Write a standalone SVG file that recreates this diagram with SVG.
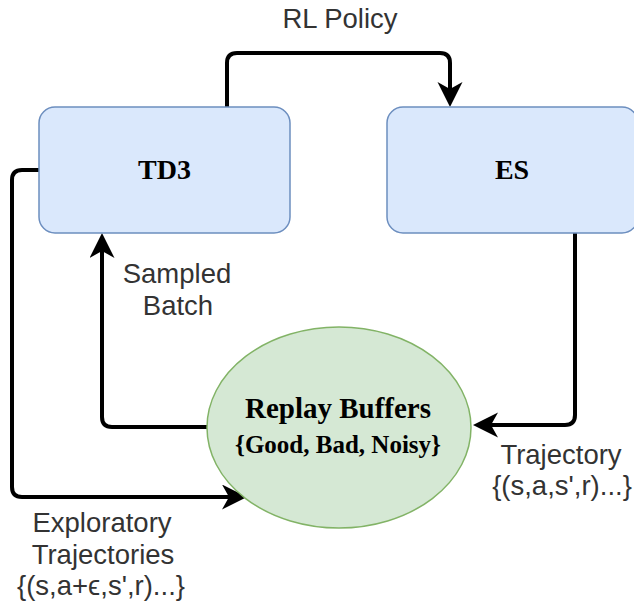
<svg xmlns="http://www.w3.org/2000/svg" width="634" height="610" viewBox="0 0 634 610">
<style>
.box{fill:#dae8fc;stroke:#6c8ebf;stroke-width:1.5}
.ell{fill:#d5e8d4;stroke:#82b366;stroke-width:1.5}
.edge{fill:none;stroke:#000;stroke-width:4;stroke-linejoin:round}
.lbl{font-family:"Liberation Sans",Arial,sans-serif;font-size:27.5px;fill:#333;text-anchor:middle}
.bold{font-family:"Liberation Serif","Times New Roman",serif;font-weight:bold;fill:#000;text-anchor:middle}
</style>
<defs>
<marker id="arr" markerUnits="userSpaceOnUse" markerWidth="26" markerHeight="26" refX="10" refY="12.5" orient="auto" viewBox="0 0 26 26">
<path d="M0,0 L25,12.5 L0,25 L7,12.5 Z" fill="#000"/>
</marker>
</defs>
<g id="connectors">
<path class="edge" d="M227,107 V63 Q227,53 237,53 H440 Q450,53 450,63 V92" marker-end="url(#arr)"/>
<path class="edge" d="M575,233 V415 Q575,425 565,425 H488" marker-end="url(#arr)"/>
<path class="edge" d="M207,427 H112 Q102,427 102,417 V248" marker-end="url(#arr)"/>
<path class="edge" d="M39,170 H22 Q12,170 12,180 V487 Q12,497 22,497 H232" marker-end="url(#arr)"/>
</g>
<g id="td3">
<rect class="box" x="39" y="107" width="251" height="126" rx="16" ry="16"/>
<text class="bold" x="164.5" y="179" font-size="28">TD3</text>
</g>
<g id="es">
<rect class="box" x="387" y="107" width="251" height="126" rx="16" ry="16"/>
<text class="bold" x="512" y="179" font-size="28">ES</text>
</g>
<g id="replay">
<ellipse class="ell" cx="339" cy="427.5" rx="132" ry="100.5"/>
<text class="bold" x="338" y="418" font-size="29">Replay Buffers</text>
<text class="bold" x="338" y="453" font-size="25">{Good, Bad, Noisy}</text>
</g>
<g id="labels">
<text class="lbl" x="340" y="28">RL Policy</text>
<text class="lbl" x="177" y="283">Sampled</text>
<text class="lbl" x="178" y="315">Batch</text>
<text class="lbl" x="561" y="464">Trajectory</text>
<text class="lbl" x="562" y="495">{(s,a,s',r)...}</text>
<text class="lbl" x="102" y="532">Exploratory</text>
<text class="lbl" x="103" y="564">Trajectories</text>
<text class="lbl" x="101" y="595">{(s,a+ϵ,s',r)...}</text>
</g>
</svg>
